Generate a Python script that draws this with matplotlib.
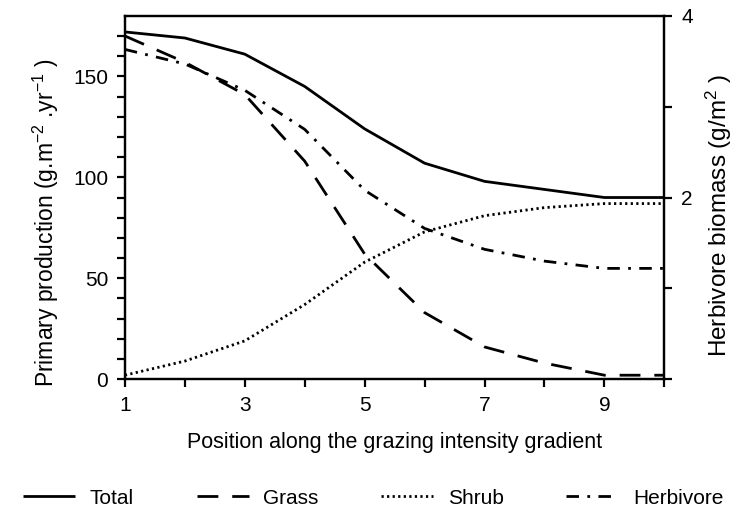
import matplotlib.pyplot as plt
import numpy as np

plt.rcParams['font.family'] = ['Liberation Sans', 'DejaVu Sans']
plt.rcParams['mathtext.fontset'] = 'custom'
plt.rcParams['mathtext.rm'] = 'Liberation Sans'
plt.rcParams['mathtext.it'] = 'Liberation Sans'

# Values
position = [1, 2, 3, 4, 5, 6, 7, 8, 9, 10]
total = [172, 169, 161, 145, 124, 107, 98, 94, 90, 90]
grass = [170, 157, 141, 108, 62, 33, 16, 8, 2, 2]
shrub = [2, 9, 19, 37, 58, 73, 81, 85, 87, 87]
herbivore = [3.63, 3.47, 3.18, 2.75, 2.08, 1.66, 1.43, 1.30, 1.22, 1.22]

x_ticks = [1, 2, 3, 4, 5, 6, 7, 8, 9, 10]
x_labels = ['1', '', '3', '', '5', '', '7', '', '9', '']

fig = plt.figure(figsize=(7.39, 5.26), dpi=100)
ax = fig.add_axes([0.169, 0.279, 0.730, 0.691])
ax2 = ax.twinx()

lw = 2.0
l1, = ax.plot(position, total, color='black', lw=lw, solid_capstyle='butt')
l2, = ax.plot(position, grass, color='black', lw=lw, dashes=(7.5, 5))
l3, = ax.plot(position, shrub, color='black', lw=lw, dashes=(0.8, 1.2))
l4, = ax2.plot(position, herbivore, color='black', lw=lw, dashes=(4.5, 3, 1, 3))

ax.set_xlim(1, 10)
ax.set_ylim(0, 180)
ax2.set_ylim(0, 4)

ax.set_xticks(x_ticks)
ax.set_xticklabels(x_labels)
ax.set_yticks(np.arange(0, 171, 10), minor=True)
ax.set_yticks([0, 50, 100, 150])
ax2.set_yticks([0, 1, 2, 3, 4])
ax2.set_yticklabels(['', '', '2', '', '4'])

for a in (ax, ax2):
    for s in a.spines.values():
        s.set_linewidth(1.6)
ax.tick_params(axis='both', which='both', direction='out', width=1.6, length=6,
               labelsize=15, pad=6)
ax2.tick_params(axis='y', direction='out', width=1.6, length=6, labelsize=15, pad=6)

ax.set_xlabel('Position along the grazing intensity gradient', fontsize=15.5, labelpad=12)
ax.set_ylabel(r'Primary production (g.m$^{-2}$ .yr$^{-1}$ )', fontsize=16.5, labelpad=9)
ax2.set_ylabel(r'Herbivore biomass (g/m$^{2}$ )', fontsize=17.5, labelpad=8)
ax.yaxis.label.set_y(0.43)
ax2.yaxis.label.set_y(0.45)

fig.legend([l1, l2, l3, l4], ['Total', 'Grass', 'Shrub', 'Herbivore'],
           loc='center', bbox_to_anchor=(0.505, 0.053), ncol=4, frameon=False,
           fontsize=15, handlelength=2.5, columnspacing=3.0, handletextpad=0.7)

fig.savefig('out.png', dpi=100)
